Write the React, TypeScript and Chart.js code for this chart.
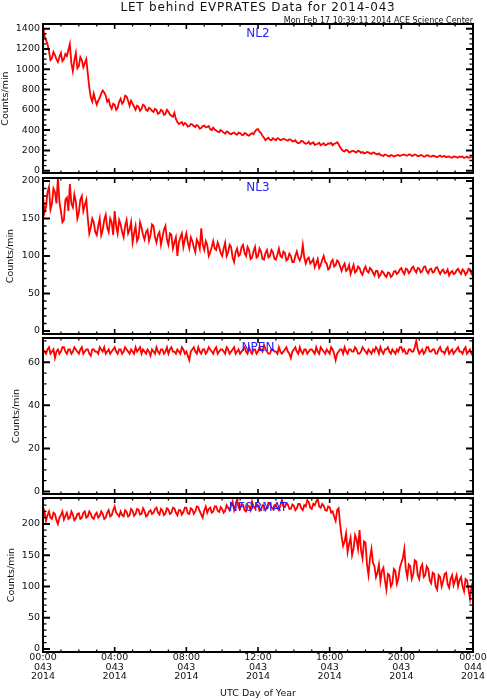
import React, { useEffect, useRef } from 'react';
import { Chart, registerables } from 'chart.js';

Chart.register(...registerables);

const FONT = '"DejaVu Sans", sans-serif';
const RED = '#ff0000';
const BLUE = '#2323ff';
const INK = '#111';

const TITLE = 'LET behind EVPRATES Data for 2014-043';
const STAMP = 'Mon Feb 17 10:39:11 2014 ACE Science Center';
const Y_TITLE = 'Counts/min';
const X_TITLE = 'UTC Day of Year';

// samples every 5 minutes, 00:00 day 043 -> 00:00 day 044
const STEP_MIN = 5;
const DAY_MIN = 1440;

const X_TICK_LABELS = [
  ['00:00', '043', '2014'],
  ['04:00', '043', '2014'],
  ['08:00', '043', '2014'],
  ['12:00', '043', '2014'],
  ['16:00', '043', '2014'],
  ['20:00', '043', '2014'],
  ['00:00', '044', '2014'],
];

const NL2 = [
  1420, 1330, 1290, 1250, 1180, 1090, 1110, 1170, 1140, 1100, 1070, 1120, 1160, 1080, 1100, 1150, 1130, 1190, 1250, 1060,
  980, 1090, 1160, 1010, 1030, 1120, 1090, 1020, 1060, 1100, 960, 820, 720, 680, 760, 700, 650, 690, 720, 760,
  790, 770, 740, 680, 700, 640, 610, 660, 650, 600, 620, 680, 710, 660, 680, 740, 730, 690, 640, 690,
  660, 630, 600, 640, 630, 590, 610, 650, 640, 600, 590, 620, 610, 590, 580, 610, 600, 560, 570, 600,
  590, 550, 560, 600, 580, 555, 540, 530, 570, 510, 480, 460, 470, 480, 450, 470, 460, 435, 440, 460,
  455, 440, 430, 450, 440, 415, 420, 440, 445, 425, 430, 440, 410, 400, 425, 405, 395, 385, 380, 400,
  390, 375, 365, 385, 380, 365, 360, 370, 375, 360, 355, 375, 370, 355, 350, 370, 365, 350, 345, 360,
  370, 360, 385, 405, 410, 385, 370, 345, 325, 300, 315, 325, 305, 300, 320, 310, 300, 320, 315, 300,
  305, 315, 310, 300, 295, 310, 305, 290, 290, 300, 280, 270, 275, 295, 290, 275, 265, 270, 285, 260,
  270, 280, 255, 260, 265, 275, 250, 260, 270, 250, 255, 270, 265, 275, 250, 265, 270, 280, 260, 230,
  210, 195, 190, 205, 200, 180, 185, 195, 195, 185, 180, 195, 190, 175, 185, 170, 175, 185, 180, 170,
  165, 180, 175, 165, 160, 170, 155, 150, 145, 160, 155, 145, 140, 155, 150, 140, 145, 150, 155, 145,
  150, 155, 160, 150, 148, 160, 158, 145, 150, 160, 155, 142, 145, 155, 150, 138, 140, 152, 150, 140,
  138, 148, 145, 138, 135, 142, 148, 136, 140, 145, 132, 138, 140, 130, 128, 140, 138, 132, 130, 140,
  135, 140, 125, 132, 140, 128, 130, 138, 135,
];

const NL3 = [
  180, 158, 165, 185, 192, 162, 170, 190, 185, 170, 205, 172, 160, 145, 148, 175, 178, 160, 196, 170,
  165, 182, 172, 150, 158, 175, 180, 160, 168, 175, 150, 130, 138, 150, 145, 132, 128, 140, 150, 128,
  135, 148, 155, 138, 132, 150, 145, 128, 160, 140, 130, 148, 142, 132, 125, 140, 148, 130, 135, 145,
  118, 130, 140, 120, 125, 145, 138, 128, 122, 132, 135, 120, 128, 142, 140, 125, 118, 128, 132, 115,
  125, 135, 140, 122, 115, 130, 128, 110, 118, 125, 100, 118, 125, 130, 112, 122, 130, 118, 110, 125,
  120, 112, 105, 122, 118, 110, 137, 115, 108, 120, 115, 100, 105, 112, 120, 110, 108, 118, 112, 104,
  100, 110, 118, 100, 105, 115, 112, 98, 92, 105, 110, 100, 102, 112, 115, 104, 100, 112, 108, 96,
  98, 106, 112, 98, 100, 110, 106, 96, 95, 104, 108, 98, 100, 108, 105, 96, 95, 102, 110, 100,
  98, 106, 104, 94, 96, 103, 100, 92, 92, 100, 106, 98, 94, 100, 115, 98, 90, 96, 98, 90,
  92, 96, 85, 90, 96, 84, 88, 95, 100, 92, 90, 82, 84, 92, 95, 86, 88, 94, 92, 86,
  80, 86, 90, 80, 82, 88, 76, 82, 88, 78, 80, 86, 84, 78, 75, 82, 86, 80, 78, 84,
  82, 78, 74, 80, 80, 72, 75, 80, 78, 74, 72, 78, 77, 72, 74, 79, 80, 76, 78, 82,
  84, 79, 76, 83, 82, 77, 79, 84, 86, 81, 78, 84, 83, 78, 80, 85, 86, 80, 77, 82,
  83, 78, 79, 84, 85, 80, 76, 80, 82, 77, 78, 82, 74, 78, 80, 76, 77, 81, 83, 79,
  76, 82, 80, 75, 78, 83, 82, 76, 79,
];

const NPEN = [
  66, 65, 64, 66, 67, 64, 65, 66, 62, 65, 66, 64, 65, 67, 67, 65, 64, 66, 66, 64,
  65, 67, 66, 65, 64, 66, 67, 64, 65, 66, 66, 64, 63, 66, 66, 65, 65, 64, 67, 66,
  65, 67, 64, 65, 66, 64, 65, 66, 67, 65, 64, 66, 66, 64, 65, 67, 66, 65, 64, 66,
  65, 64, 67, 65, 66, 67, 64, 66, 65, 64, 66, 65, 63, 66, 65, 64, 67, 65, 64, 66,
  66, 64, 65, 67, 64, 66, 67, 65, 65, 64, 66, 65, 64, 67, 66, 64, 65, 63, 61, 65,
  66, 67, 65, 64, 67, 65, 64, 66, 66, 64, 65, 67, 66, 65, 64, 66, 67, 64, 65, 66,
  66, 65, 64, 67, 66, 64, 65, 66, 67, 64, 65, 66, 64, 65, 66, 67, 65, 64, 67, 65,
  64, 66, 66, 64, 65, 67, 66, 65, 68, 66, 65, 64, 64, 66, 66, 65, 65, 64, 67, 65,
  64, 65, 66, 67, 65, 64, 62, 65, 66, 67, 65, 64, 67, 65, 64, 66, 66, 64, 65, 66,
  66, 65, 64, 67, 65, 64, 67, 66, 65, 64, 66, 65, 64, 67, 66, 64, 61, 64, 65, 66,
  66, 64, 67, 65, 64, 66, 66, 65, 65, 67, 66, 64, 64, 65, 67, 66, 65, 64, 66, 65,
  64, 66, 65, 67, 66, 64, 67, 65, 64, 66, 66, 67, 65, 64, 66, 65, 64, 66, 65, 67,
  67, 65, 66, 64, 64, 66, 66, 65, 65, 67, 70, 66, 64, 65, 66, 64, 65, 67, 67, 65,
  65, 66, 66, 64, 64, 66, 67, 65, 65, 64, 66, 67, 64, 65, 66, 64, 65, 66, 67, 65,
  65, 64, 66, 67, 64, 65, 66, 64, 65,
];

const NFORMAT = [
  212, 220, 205, 214, 220, 210, 208, 218, 216, 206, 200, 210, 214, 220, 207, 213, 218, 208, 210, 220,
  215, 206, 209, 216, 217, 208, 210, 218, 220, 210, 212, 220, 216, 210, 208, 215, 218, 210, 213, 220,
  216, 208, 210, 218, 222, 212, 214, 222, 228, 218, 215, 212, 220, 214, 212, 222, 219, 212, 214, 224,
  221, 213, 216, 224, 223, 215, 216, 225, 220, 212, 214, 220, 222, 216, 218, 224, 226, 218, 215, 224,
  221, 214, 217, 225, 223, 216, 218, 226, 225, 218, 214, 222, 222, 215, 219, 226, 226, 217, 216, 225,
  223, 216, 220, 228, 227, 220, 215, 210, 222, 228, 218, 224, 226, 218, 220, 228, 228, 221, 219, 227,
  224, 218, 221, 230, 226, 222, 230, 236, 222, 230, 240, 226, 224, 232, 231, 222, 220, 230, 228, 222,
  236, 228, 225, 232, 230, 221, 222, 230, 229, 222, 226, 234, 233, 226, 224, 230, 230, 225, 222, 230,
  238, 228, 227, 233, 231, 224, 224, 231, 229, 222, 225, 232, 232, 225, 222, 230, 228, 238, 235, 226,
  224, 232, 230, 236, 240, 228, 226, 232, 229, 222, 221, 228, 227, 218, 220, 212, 205, 222, 225, 200,
  180, 165, 172, 185, 155, 168, 178, 150, 160, 182, 175, 160, 190, 158, 145, 172, 170, 135, 118, 145,
  160, 138, 132, 115, 122, 135, 108, 125, 130, 110, 95, 120, 118, 100, 105, 128, 125, 104, 112, 130,
  138, 145, 160, 128, 115, 135, 132, 112, 120, 142, 140, 118, 112, 130, 135, 115, 118, 132, 128, 110,
  105, 122, 120, 100, 95, 118, 115, 100, 108, 120, 122, 104, 98, 112, 118, 102, 110, 118, 100, 110,
  115, 100, 92, 112, 110, 95, 80, 100, 108,
];

// panel layout: plot box in page pixels and y axis range
const PANELS = [
  { name: 'NL2', values: NL2, min: -23, max: 1446, major: 200, minor: 50, top: 24, bottom: 173, titlePad: 0.5 },
  { name: 'NL3', values: NL3, min: -4, max: 204, major: 50, minor: 10, top: 178, bottom: 334, titlePad: 6 },
  { name: 'NPEN', values: NPEN, min: -1.2, max: 71.3, major: 20, minor: 5, top: 338, bottom: 494, titlePad: 12 },
  { name: 'NFORMAT', values: NFORMAT, min: -5, max: 241.5, major: 50, minor: 10, top: 498, bottom: 652, titlePad: 6.5 },
];

const W = 487;
const H = 700;
const LEFT = 43;
const RIGHT = 473;

// frame, inward ticks on all sides, panel name and the page heading
const panelDecor = {
  id: 'panelDecor',
  afterDatasetsDraw(chart: any, _args: any, opts: any) {
    const { ctx, chartArea: a, scales } = chart;
    const xs = scales.x;
    const ys = scales.y;
    ctx.save();
    ctx.strokeStyle = '#000';

    for (let v = Math.ceil(ys.min / opts.minor) * opts.minor; v <= ys.max; v += opts.minor) {
      const q = v / opts.major;
      const major = Math.abs(q - Math.round(q)) < 1e-6;
      const len = major ? 7 : 3.5;
      const py = ys.getPixelForValue(v);
      ctx.lineWidth = major ? 2 : 1.3;
      ctx.beginPath();
      ctx.moveTo(a.left, py);
      ctx.lineTo(a.left + len, py);
      ctx.moveTo(a.right, py);
      ctx.lineTo(a.right - len, py);
      ctx.stroke();
    }
    for (let v = 0; v <= DAY_MIN; v += 60) {
      const major = v % 240 === 0;
      const len = major ? 5 : 2.5;
      const px = xs.getPixelForValue(v);
      ctx.lineWidth = major ? 1.6 : 1.3;
      ctx.beginPath();
      ctx.moveTo(px, a.top);
      ctx.lineTo(px, a.top + len);
      ctx.moveTo(px, a.bottom);
      ctx.lineTo(px, a.bottom - len);
      ctx.stroke();
    }
    ctx.lineWidth = 2;
    ctx.strokeRect(a.left, a.top, a.right - a.left, a.bottom - a.top);

    ctx.fillStyle = BLUE;
    ctx.font = `12px ${FONT}`;
    ctx.textAlign = 'center';
    ctx.textBaseline = 'middle';
    ctx.fillText(opts.label, (a.left + a.right) / 2, a.top + 10);

    if (opts.heading) {
      ctx.fillStyle = INK;
      ctx.textBaseline = 'alphabetic';
      ctx.font = `12px ${FONT}`;
      (ctx as any).letterSpacing = '0.8px';
      ctx.fillText(TITLE, (a.left + a.right) / 2, 10.5);
      (ctx as any).letterSpacing = '0px';
      ctx.font = `8px ${FONT}`;
      ctx.textAlign = 'right';
      ctx.fillText(STAMP, a.right, 22.5);
    }
    ctx.restore();
  },
};

type PanelDef = (typeof PANELS)[number];

function Panel({ def, first, last }: { def: PanelDef; first: boolean; last: boolean }) {
  const canvasRef = useRef<HTMLCanvasElement | null>(null);

  useEffect(() => {
    if (!canvasRef.current) return;
    const axisFont = { family: FONT, size: 9.5, lineHeight: 1 };

    const chart = new Chart(canvasRef.current, {
      type: 'line',
      data: {
        datasets: [
          {
            data: def.values.map((v, i) => ({ x: i * STEP_MIN, y: v })),
            borderColor: RED,
            borderWidth: 1.8,
            pointRadius: 0,
            tension: 0,
            fill: false,
          },
        ],
      },
      options: {
        responsive: false,
        animation: false,
        events: [],
        layout: {
          padding: { top: def.top, bottom: last ? 0 : H - def.bottom, left: 0, right: W - RIGHT },
        },
        plugins: {
          legend: { display: false },
          tooltip: { enabled: false },
          // @ts-ignore custom plugin options
          panelDecor: { label: def.name, major: def.major, minor: def.minor, heading: first },
        },
        scales: {
          x: {
            type: 'linear',
            min: 0,
            max: DAY_MIN,
            display: last,
            grid: { display: false, drawTicks: false },
            border: { display: false },
            ticks: {
              stepSize: 240,
              autoSkip: false,
              maxRotation: 0,
              padding: 1,
              color: INK,
              font: axisFont,
              callback: (_v: any, i: number) => X_TICK_LABELS[i],
            },
            title: {
              display: true,
              text: X_TITLE,
              color: INK,
              font: { family: FONT, size: 9.5, lineHeight: 1.2 },
              padding: { top: 0, bottom: 1 },
            },
            afterFit: (s: any) => {
              s.height = last ? H - def.bottom : 0;
              s.paddingLeft = 0;
              s.paddingRight = 0;
            },
          },
          y: {
            type: 'linear',
            min: def.min,
            max: def.max,
            grid: { display: false, drawTicks: false },
            border: { display: false },
            ticks: {
              stepSize: def.major,
              includeBounds: false,
              padding: 3,
              color: INK,
              font: axisFont,
              callback: (v: any) => String(v),
            },
            title: {
              display: true,
              text: Y_TITLE,
              color: INK,
              font: axisFont,
              padding: { top: def.titlePad, bottom: 0 },
            },
            afterFit: (s: any) => {
              s.width = LEFT;
              s.paddingTop = 0;
              s.paddingBottom = 0;
            },
          },
        },
      },
      plugins: [panelDecor],
    });

    return () => chart.destroy();
  }, [def, first, last]);

  return (
    <canvas
      ref={canvasRef}
      width={W}
      height={H}
      style={{ position: 'absolute', left: 0, top: 0 }}
    />
  );
}

export default function App() {
  return (
    <div style={{ position: 'absolute', left: 0, top: 0, width: W, height: H, background: '#fff' }}>
      {PANELS.map((p, i) => (
        <Panel key={p.name} def={p} first={i === 0} last={i === PANELS.length - 1} />
      ))}
    </div>
  );
}
